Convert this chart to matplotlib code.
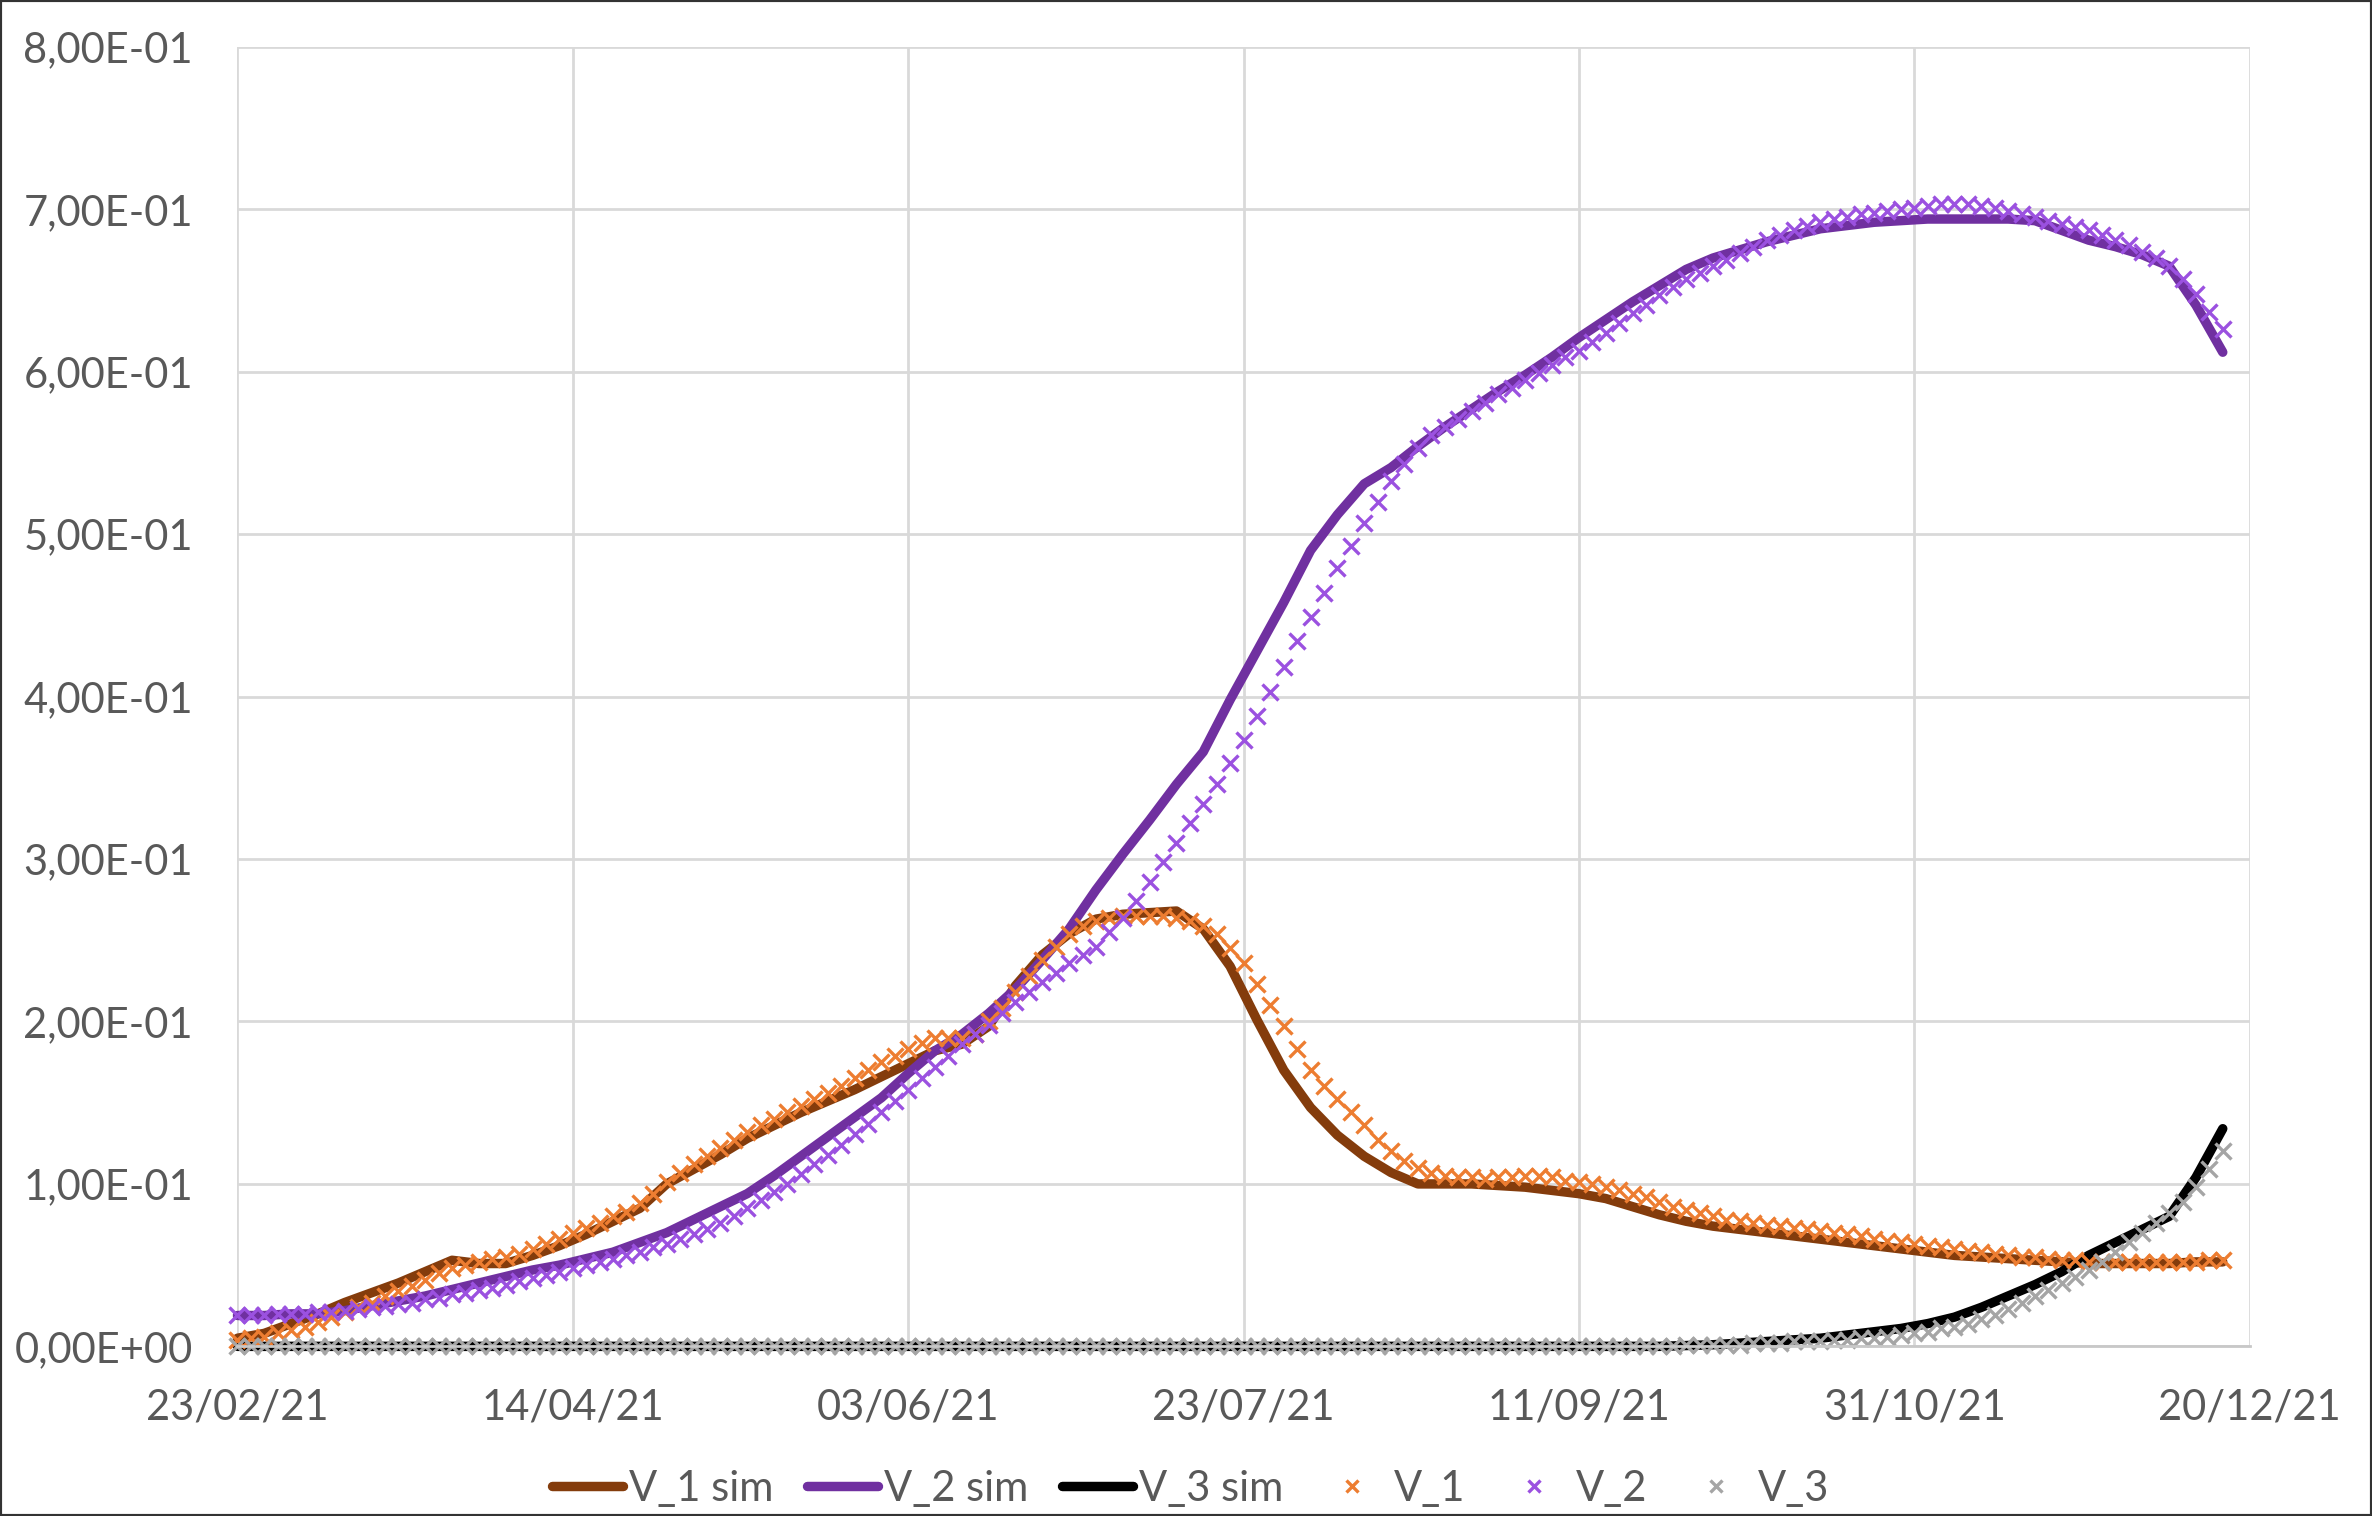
import numpy as np
import pandas as pd
import matplotlib
matplotlib.use('Agg')
import matplotlib.pyplot as plt
import matplotlib.dates as mdates
from matplotlib.ticker import FuncFormatter, MultipleLocator
from matplotlib.patches import Rectangle

plt.rcParams['font.family'] = ['Lato', 'DejaVu Sans']

# observations every 2 days, simulations every 4 days, starting 23/02/21
obs_dates = pd.date_range('2021-02-23', periods=149, freq='2D')
sim_dates = pd.date_range('2021-02-23', periods=75, freq='4D')

v1_obs = [.004, .005, .006, .008, .010, .012, .015, .018, .021, .024,
          .027, .031, .034, .037, .041, .045, .048, .050, .052, .054,
          .055, .057, .060, .063, .066, .070, .073, .076, .080, .083,
          .088, .094, .101, .107, .112, .117, .122, .127, .132, .136,
          .140, .144, .148, .152, .156, .160, .165, .170, .175, .179,
          .183, .187, .190, .190, .190, .192, .200, .208, .218, .228,
          .238, .246, .254, .259, .262, .264, .265, .265, .265, .265,
          .264, .262, .259, .254, .245, .236, .223, .210, .197, .183,
          .170, .160, .152, .144, .136, .127, .120, .114, .110, .107,
          .105, .104, .104, .103, .104, .104, .105, .105, .104, .102,
          .101, .100, .098, .096, .094, .092, .089, .086, .084, .082,
          .080, .078, .077, .076, .075, .074, .073, .072, .071, .070,
          .069, .068, .066, .065, .064, .063, .062, .061, .060, .059,
          .058, .057, .056, .055, .055, .054, .053, .053, .052, .052,
          .052, .052, .052, .052, .052, .052, .052, .053, .053]

v2_obs = [.019, .019, .019, .020, .020, .020, .021, .021, .022, .023,
          .024, .025, .026, .027, .029, .030, .032, .033, .035, .036,
          .038, .040, .042, .044, .046, .048, .050, .052, .054, .056,
          .058, .061, .063, .066, .069, .072, .076, .080, .085, .090,
          .095, .100, .106, .112, .118, .124, .131, .137, .144, .151,
          .158, .165, .172, .179, .186, .192, .198, .205, .212, .218,
          .224, .230, .236, .241, .246, .255, .264, .274, .286, .298,
          .310, .322, .334, .346, .359, .373, .388, .403, .418, .434,
          .449, .464, .479, .493, .507, .520, .533, .543, .553, .561,
          .566, .571, .576, .581, .586, .590, .595, .599, .604, .609,
          .613, .618, .624, .630, .636, .641, .647, .652, .657, .661,
          .665, .669, .673, .677, .681, .684, .687, .690, .692, .694,
          .695, .697, .698, .699, .700, .701, .702, .703, .703, .703,
          .702, .701, .699, .697, .695, .693, .691, .689, .687, .684,
          .681, .678, .674, .670, .665, .657, .648, .637, .626]

v3_obs = [0, 0, 0, 0, 0, 0, 0, 0, 0, 0,
          0, 0, 0, 0, 0, 0, 0, 0, 0, 0,
          0, 0, 0, 0, 0, 0, 0, 0, 0, 0,
          0, 0, 0, 0, 0, 0, 0, 0, 0, 0,
          0, 0, 0, 0, 0, 0, 0, 0, 0, 0,
          0, 0, 0, 0, 0, 0, 0, 0, 0, 0,
          0, 0, 0, 0, 0, 0, 0, 0, 0, 0,
          0, 0, 0, 0, 0, 0, 0, 0, 0, 0,
          0, 0, 0, 0, 0, 0, 0, 0, 0, 0,
          0, 0, 0, 0, 0, 0, 0, 0, 0, 0,
          0, 0, 0, 0, 0, 0, 0, 0, .001, .001,
          .001, .001, .001, .002, .002, .002, .003, .003, .003, .004,
          .004, .005, .005, .006, .007, .008, .009, .011, .012, .014,
          .017, .019, .023, .027, .031, .035, .039, .043, .047, .052,
          .058, .064, .070, .076, .082, .089, .098, .109, .120]

v1_sim = [.005, .008, .014, .020, .027, .033, .039, .046, .053, .051,
          .051, .056, .062, .069, .077, .085, .100, .109, .118, .128,
          .136, .144, .151, .158, .166, .174, .182, .186, .197, .222,
          .241, .254, .263, .266, .267, .268, .257, .234, .201, .170,
          .147, .130, .117, .107, .100, .100, .100, .099, .098, .096,
          .094, .091, .086, .081, .077, .074, .072, .070, .068, .066,
          .064, .062, .060, .058, .056, .055, .054, .053, .052, .051,
          .051, .051, .051, .052, .052]

v2_sim = [.019, .019, .020, .020, .022, .025, .028, .031, .035, .039,
          .043, .047, .050, .054, .058, .064, .070, .078, .086, .094,
          .105, .117, .129, .141, .153, .168, .182, .192, .205, .220,
          .238, .257, .281, .303, .324, .346, .366, .398, .428, .458,
          .490, .512, .531, .541, .554, .566, .577, .588, .598, .609,
          .621, .632, .643, .653, .663, .670, .675, .680, .684, .688,
          .690, .692, .693, .694, .694, .694, .694, .693, .687, .681,
          .677, .672, .665, .641, .612]

v3_sim = [0, 0, 0, 0, 0, 0, 0, 0, 0, 0,
          0, 0, 0, 0, 0, 0, 0, 0, 0, 0,
          0, 0, 0, 0, 0, 0, 0, 0, 0, 0,
          0, 0, 0, 0, 0, 0, 0, 0, 0, 0,
          0, 0, 0, 0, 0, 0, 0, 0, 0, 0,
          0, 0, 0, 0, .0005, .001, .002, .003, .004, .005,
          .007, .009, .011, .014, .018, .024, .031, .038, .046, .056,
          .064, .072, .080, .104, .134]

x_ticks = pd.date_range('2021-02-23', '2021-12-20', freq='50D')

fig = plt.figure(figsize=(11.86, 7.58), dpi=200)
ax = fig.add_axes([0.1001, 0.1119, 0.8483, 0.8572])

grid_c = '#D9D9D9'
txt_c = '#595959'

# simulated series (lines)
ax.plot(sim_dates, v1_sim, color='#843C0C', lw=3.4, label='V_1 sim', clip_on=False, solid_capstyle='round')
ax.plot(sim_dates, v2_sim, color='#7030A0', lw=3.4, label='V_2 sim', clip_on=False, solid_capstyle='round')
ax.plot(sim_dates, v3_sim, color='#000000', lw=3.4, label='V_3 sim', clip_on=False, solid_capstyle='round')

# observed series (x markers)
mk = dict(ls='none', marker='x', ms=6.0, mew=1.2, clip_on=False)
ax.plot(obs_dates, v1_obs, color='#ED7D31', label='V_1', **mk)
ax.plot(obs_dates, v2_obs, color='#9B51E0', label='V_2', **mk)
ax.plot(obs_dates, v3_obs, color='#A5A5A5', label='V_3', **mk)

ax.set_xlim(pd.Timestamp('2021-02-23'), pd.Timestamp('2021-12-20'))
ax.set_ylim(0, 0.8)
ax.set_xticks(x_ticks)
ax.xaxis.set_major_formatter(mdates.DateFormatter('%d/%m/%y'))
ax.yaxis.set_major_locator(MultipleLocator(0.1))
ax.yaxis.set_major_formatter(FuncFormatter(lambda v, p: f'{v:.2E}'.replace('.', ',')))

ax.grid(True, color=grid_c, lw=1.0)
ax.set_axisbelow(True)
for s in ['top', 'right', 'left']:
    ax.spines[s].set_visible(False)
ax.spines['bottom'].set_color('#C8C8C8')
ax.spines['bottom'].set_linewidth(1.0)
ax.tick_params(axis='both', length=0, labelsize=15, labelcolor=txt_c)
ax.tick_params(axis='y', pad=16)
ax.tick_params(axis='x', pad=15)

fig.legend(loc='center', bbox_to_anchor=(0.502, 0.018), ncol=6, frameon=False,
           fontsize=15, labelcolor=txt_c, handlelength=1.7, handletextpad=0.15,
           columnspacing=0.8, markerscale=0.75)

fig.patches.append(Rectangle((0, 0), 1, 1, transform=fig.transFigure, fill=False,
                             edgecolor='#333333', lw=1.5))

fig.savefig('out.png', dpi=200, facecolor='white')
